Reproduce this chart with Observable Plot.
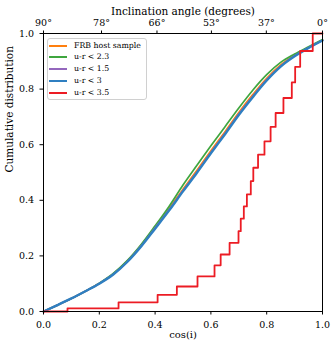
<!DOCTYPE html>
<html><head><meta charset="utf-8">
<script src="https://cdn.jsdelivr.net/npm/d3@7"></script>
<script src="https://cdn.jsdelivr.net/npm/@observablehq/plot@0.6"></script>
<style>
body{margin:0;background:#fff;}
#wrap{position:relative;width:335px;height:348px;}
#legend{position:absolute;left:47px;top:38px;width:100px;height:62px;border:1px solid #d0d0d0;border-radius:3px;background:rgba(255,255,255,0.8);box-sizing:border-box;font-family:"DejaVu Serif";font-size:7.8px;color:#000;}
.row{position:absolute;left:0;height:0;}
.sw{position:absolute;left:1px;top:-1px;width:18px;height:2px;}
.lb{position:absolute;left:26px;white-space:nowrap;line-height:10px;top:-5px;}
</style>
</head><body><div id="wrap"></div>
<script>
// cos(i) grid for the smooth cumulative curves
const cosGrid = [0,0.05,0.1,0.15,0.2,0.25,0.3,0.35,0.4,0.45,0.5,0.55,0.6,0.65,0.7,0.75,0.8,0.85,0.9,0.95,1.0];
const frbHost = [0,0.023,0.047,0.073,0.101,0.135,0.181,0.238,0.303,0.37,0.44,0.508,0.578,0.646,0.716,0.78,0.839,0.887,0.922,0.95,0.976];
const ur23   = [0,0.023,0.047,0.073,0.102,0.137,0.183,0.241,0.308,0.378,0.455,0.526,0.596,0.664,0.732,0.796,0.852,0.896,0.926,0.952,0.978];
const ur15   = [0,0.023,0.047,0.073,0.101,0.134,0.179,0.236,0.301,0.366,0.435,0.502,0.572,0.64,0.71,0.774,0.834,0.883,0.92,0.949,0.975];
const ur30   = [0,0.023,0.047,0.073,0.1,0.133,0.178,0.234,0.298,0.363,0.432,0.499,0.569,0.637,0.707,0.771,0.831,0.881,0.918,0.948,0.975];
// step CDF for u-r < 3.5
const ur35X = [0,0.086,0.269,0.409,0.478,0.552,0.613,0.635,0.667,0.699,0.707,0.718,0.729,0.743,0.752,0.769,0.792,0.814,0.832,0.86,0.89,0.902,0.92,0.965,1.0];
const ur35Y = [0,0.011,0.033,0.060,0.090,0.126,0.166,0.205,0.247,0.289,0.334,0.378,0.421,0.469,0.517,0.564,0.612,0.664,0.714,0.768,0.824,0.880,0.937,1.0,1.0];

const seriesNames = ["FRB host sample","u-r < 2.3","u-r < 1.5","u-r < 3","u-r < 3.5"];
const seriesColors = ["#ff7f0e","#3fa63f","#9467bd","#2f7fc1","#ec1c24"];
const smoothSeries = [frbHost, ur23, ur15, ur30];

const xTicks = [0,0.2,0.4,0.6,0.8,1.0];
const yTicks = [0,0.2,0.4,0.6,0.8,1.0];
const topAngles = [90,78,66,53,37,0];
const topPos = topAngles.map(a => Math.cos(a*Math.PI/180));

const smoothData = smoothSeries.map((vals,k) => cosGrid.map((x,i) => ({x, y: vals[i], s: k})));
const redData = ur35X.map((x,i) => ({x, y: ur35Y[i]}));

const lineMarks = smoothData.map((d,k) => Plot.line(d, {x:"x", y:"y", stroke: seriesColors[k], strokeWidth: k===3 ? 2.4 : 1.7, curve:"monotone-x"}));

const chart = Plot.plot({
  width: 335, height: 348,
  marginLeft: 43, marginRight: 13, marginTop: 33, marginBottom: 37,
  x: {domain:[0,1]},
  y: {domain:[0,1]},
  style: {fontFamily: "DejaVu Serif", fontSize: "9.5px", color: "#000", background: "#fff"},
  marks: [
    ...lineMarks,
    Plot.line(redData, {x:"x", y:"y", stroke: seriesColors[4], strokeWidth: 1.8, curve:"step-after"}),
    Plot.frame({stroke:"#000", strokeWidth: 1}),
    Plot.axisX(xTicks, {anchor:"bottom", tickSize:3.5, tickPadding:6, tickFormat: d => d.toFixed(1), label:null, fontSize: 9.5}),
    Plot.axisX(topPos, {anchor:"top", tickSize:3.5, tickPadding:4, tickFormat: d => topAngles[topPos.indexOf(d)] + "°", label:null, fontSize: 9.5}),
    Plot.axisY(yTicks, {anchor:"left", tickSize:3.5, tickPadding:6, tickFormat: d => d.toFixed(1), label:null, fontSize: 9.5}),
    Plot.text(["cos(i)"], {frameAnchor:"bottom", dy: 26, fontSize: 10}),
    Plot.text(["Inclination angle (degrees)"], {frameAnchor:"top", dy: -26, fontSize: 10.5}),
    Plot.text(["Cumulative distribution"], {frameAnchor:"left", dx: -34, rotate: -90, fontSize: 10.5})
  ]
});
const wrap = document.getElementById("wrap");
wrap.appendChild(chart);

const leg = document.createElement("div");
leg.id = "legend";
seriesNames.forEach((name,i) => {
  const row = document.createElement("div");
  row.className = "row";
  row.style.top = (6.5 + i*11.8) + "px";
  const sw = document.createElement("div");
  sw.className = "sw";
  sw.style.backgroundColor = seriesColors[i];
  const lb = document.createElement("div");
  lb.className = "lb";
  lb.textContent = name;
  row.appendChild(sw);
  row.appendChild(lb);
  leg.appendChild(row);
});
wrap.appendChild(leg);
</script>
</body></html>
